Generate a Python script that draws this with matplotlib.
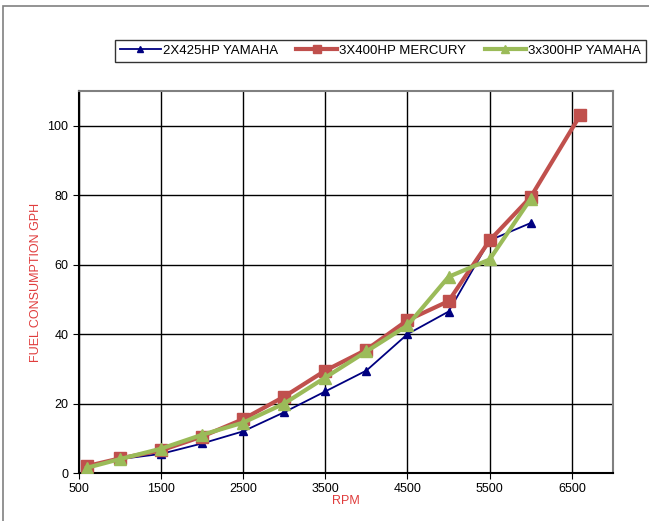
import matplotlib
matplotlib.use("Agg")
import matplotlib.pyplot as plt
from matplotlib.patches import Rectangle

plt.rcParams['font.family'] = ['Liberation Sans', 'DejaVu Sans']

# data
rpm = [600, 1000, 1500, 2000, 2500, 3000, 3500, 4000, 4500, 5000, 5500, 6000, 6600]
yam425 = [1.5, 4.0, 5.5, 8.5, 12.0, 17.5, 23.5, 29.5, 40.0, 46.5, 67.0, 72.0]
merc400 = [2.0, 4.2, 6.5, 10.5, 15.5, 22.0, 29.5, 35.5, 44.0, 49.5, 67.0, 79.5, 103.0]
yam300 = [1.5, 4.0, 7.0, 11.0, 14.5, 20.0, 27.5, 35.0, 42.5, 56.5, 61.5, 79.0]

xticks = [500, 1500, 2500, 3500, 4500, 5500, 6500]
yticks = [0, 20, 40, 60, 80, 100]

fig = plt.figure(figsize=(6.49, 5.21), dpi=100)
ax = fig.add_axes([0.1213, 0.0921, 0.9445 - 0.1213, 0.8253 - 0.0921])

# outer chart border
fig.patches.append(Rectangle((3 / 649, -0.01), 1.0, 1 - 6 / 521 + 0.01,
                             transform=fig.transFigure, fill=False,
                             edgecolor='#808080', linewidth=1.2))

ax.plot(rpm[:len(yam425)], yam425, color='#000080', linewidth=1.3,
        marker='^', markersize=6, label='2X425HP YAMAHA', zorder=3)
ax.plot(rpm[:len(merc400)], merc400, color='#C0504D', linewidth=3,
        marker='s', markersize=8, label='3X400HP MERCURY', zorder=4)
ax.plot(rpm[:len(yam300)], yam300, color='#9BBB59', linewidth=3,
        marker='^', markersize=8, label='3x300HP YAMAHA', zorder=5)

ax.set_xlim(500, 7000)
ax.set_ylim(0, 110)
ax.set_xticks(xticks)
ax.set_yticks(yticks)
ax.grid(True, which='major', color='black', linewidth=1)
ax.set_axisbelow(True)
ax.tick_params(labelsize=9, length=4, direction='out')

for s in ax.spines.values():
    s.set_color('#808080')
    s.set_linewidth(1.5)
ax.spines['left'].set_color('black')
ax.spines['bottom'].set_color('black')

ax.set_xlabel('RPM', color='#E03C3C', fontsize=9, labelpad=0)
ax.set_ylabel('FUEL CONSUMPTION GPH', color='#E03C3C', fontsize=9, labelpad=4)

leg = fig.legend(loc='upper left', bbox_to_anchor=(108 / 649, 1 - 33 / 521),
                 ncol=3, fontsize=9.5, frameon=True, fancybox=False,
                 handlelength=3.1, columnspacing=1.4, handletextpad=0.15,
                 borderpad=0.4, markerscale=0.8)
leg.get_frame().set_edgecolor('black')
leg.get_frame().set_linewidth(1)

fig.savefig('out.png', dpi=100)
